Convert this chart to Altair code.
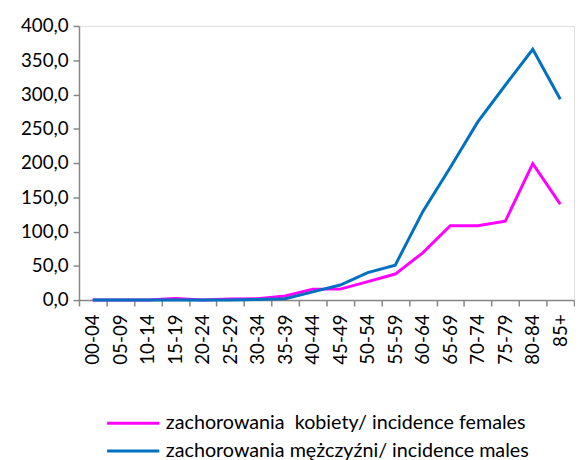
import altair as alt
import pandas as pd

ages = ["00-04", "05-09", "10-14", "15-19", "20-24", "25-29", "30-34", "35-39", "40-44",
        "45-49", "50-54", "55-59", "60-64", "65-69", "70-74", "75-79", "80-84", "85+"]
females = [0, 0, 0, 2.5, 0, 1.5, 2, 6, 16, 16, 27, 38, 69, 108.5, 108.5, 115, 199, 140]
males = [0, 0, 0, 0, 0, 0, 1, 2, 12, 22, 40, 51, 129, 193.5, 260, 313.5, 366, 293]

lab_f = "zachorowania \u00a0kobiety/ incidence females"
lab_m = "zachorowania mężczyźni/ incidence males"

rows = []
for a, v in zip(ages, females):
    rows.append({"age": a, "value": v, "series": lab_f, "o": 0})
for a, v in zip(ages, males):
    rows.append({"age": a, "value": v, "series": lab_m, "o": 1})
df = pd.DataFrame(rows)

FONT = "Lato"
GRAY = "#868686"

chart = alt.Chart(df).mark_line(strokeWidth=3).encode(
    x=alt.X("age:N", sort=ages, bandPosition=0.5,
            scale=alt.Scale(type="band", paddingInner=0, paddingOuter=0),
            axis=alt.Axis(title=None, labelAngle=-90, tickBand="extent", labelFontSize=19,
                          labelColor="#000000", domainColor=GRAY, tickColor=GRAY,
                          tickSize=6, labelPadding=8, labelFont=FONT, grid=False,
                          labelBaseline="middle", labelAlign="right", domainWidth=1.5,
                          tickWidth=1.5)),
    y=alt.Y("value:Q", scale=alt.Scale(domain=[0, 400]),
            axis=alt.Axis(title=None, values=[0, 50, 100, 150, 200, 250, 300, 350, 400],
                          labelExpr="replace(format(datum.value, '.1f'), '.', ',')",
                          labelFontSize=19, labelColor="#000000", domainColor=GRAY,
                          tickColor=GRAY, tickSize=6, labelPadding=5, labelFont=FONT,
                          grid=False, domainWidth=1.5, tickWidth=1.5)),
    color=alt.Color("series:N", sort=[lab_f, lab_m],
                    scale=alt.Scale(domain=[lab_f, lab_m], range=["#FF00FF", "#0070C0"]),
                    legend=alt.Legend(title=None, orient="none", legendX=27, legendY=390,
                                      direction="vertical", symbolType="stroke",
                                      symbolSize=2800, symbolStrokeWidth=3,
                                      labelFontSize=20, labelFont=FONT, labelColor="#000000",
                                      clipHeight=26, rowPadding=2, labelOffset=5,
                                      labelLimit=0)),
    order=alt.Order("o:Q"),
).properties(
    width=502, height=278,
    padding={"left": 72, "top": 15, "right": 1, "bottom": 162},
    autosize=alt.AutoSizeParams(type="none"),
).configure_view(stroke=None).configure(background="white")

chart.save("out.html", embed_options={"renderer": "svg", "actions": False})
